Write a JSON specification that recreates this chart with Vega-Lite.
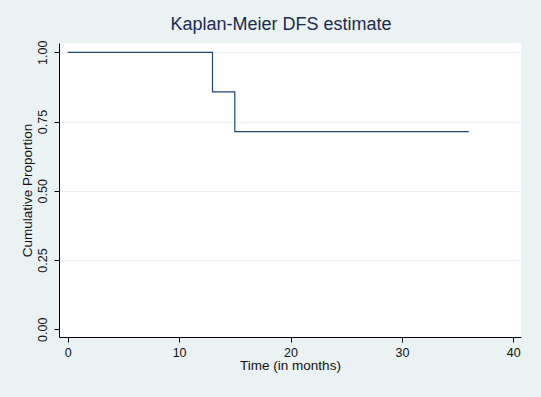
{
  "$schema": "https://vega.github.io/schema/vega-lite/v6.json",
  "width": 462,
  "height": 294,
  "autosize": {"type": "none"},
  "padding": {"left": 59, "top": 43, "right": 20, "bottom": 60},
  "background": "#EAF2F3",
  "view": {"fill": "white", "stroke": null},
  "title": {
    "text": "Kaplan-Meier DFS estimate",
    "font": "Liberation Sans",
    "fontSize": 18,
    "fontWeight": "normal",
    "color": "#1a2a50",
    "anchor": "middle",
    "frame": "group",
    "dx": -9,
    "offset": 6
  },
  "data": {
    "values": [
      {"time": 0, "survival": 1.0},
      {"time": 13, "survival": 0.857},
      {"time": 15, "survival": 0.714},
      {"time": 36, "survival": 0.714}
    ]
  },
  "mark": {"type": "line", "interpolate": "step-after", "color": "#1A476F", "strokeWidth": 1.2},
  "encoding": {
    "x": {
      "field": "time",
      "type": "quantitative",
      "scale": {"domain": [-0.78, 40.69], "nice": false, "zero": false},
      "axis": {
        "values": [0, 10, 20, 30, 40],
        "grid": false,
        "title": "Time (in months)",
        "titleFontSize": 13.5,
        "labelPadding": 4,
        "titlePadding": 0,
        "labelFlush": false
      }
    },
    "y": {
      "field": "survival",
      "type": "quantitative",
      "scale": {"domain": [-0.0278, 1.0336], "nice": false, "zero": false},
      "axis": {
        "values": [0, 0.25, 0.5, 0.75, 1],
        "format": ".2f",
        "grid": true,
        "gridColor": "#EAF2F3",
        "gridWidth": 1,
        "gridOpacity": {"condition": {"test": "datum.value === 0", "value": 0}, "value": 1},
        "labelAngle": -90,
        "labelAlign": "center",
        "labelBaseline": "bottom",
        "labelPadding": 5,
        "title": "Cumulative Proportion",
        "titleFontSize": 13.5,
        "titlePadding": 2,
        "labelFlush": false
      }
    }
  },
  "config": {
    "axis": {
      "labelFont": "Liberation Sans",
      "labelFontSize": 12.5,
      "labelColor": "#111111",
      "titleFont": "Liberation Sans",
      "titleFontWeight": "normal",
      "titleColor": "#111111",
      "domainColor": "#000000",
      "domainWidth": 1,
      "tickColor": "#000000",
      "tickWidth": 1,
      "tickSize": 5,
      "labelOverlap": false
    }
  }
}
